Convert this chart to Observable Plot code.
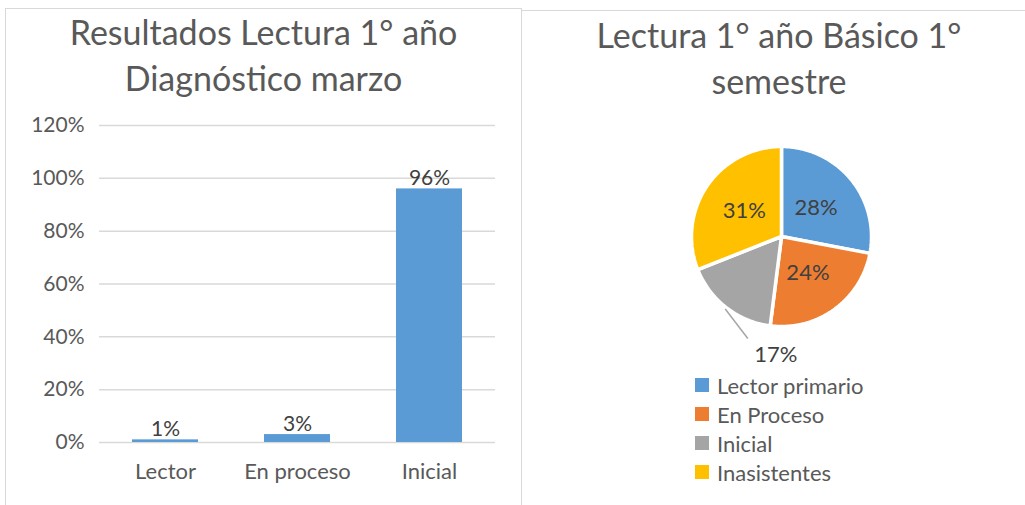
<!DOCTYPE html>
<html>
<head>
<meta charset="utf-8">
<script src="https://cdn.jsdelivr.net/npm/d3@7"></script>
<script src="https://cdn.jsdelivr.net/npm/@observablehq/plot@0.6"></script>
<style>
  html, body { margin: 0; padding: 0; background: #fff; }
  body { width: 1025px; height: 505px; position: relative; overflow: hidden; font-family: Lato, "Open Sans", sans-serif; color: #595959; }
  .panel { position: absolute; border: 1px solid #d9d9d9; box-sizing: border-box; background: #fff; }
  .title { position: absolute; text-align: center; font-size: 34px; line-height: 46px; color: #595959; white-space: nowrap; }
  .abs { position: absolute; }
  .legend-row { position: absolute; display: flex; align-items: center; font-size: 22px; color: #595959; white-space: nowrap; }
  .sw { width: 14px; height: 14px; margin-right: 8px; }
</style>
</head>
<body>
<div class="panel" style="left:5px; top:8px; width:517px; height:510px;"></div>
<div class="panel" style="left:521px; top:10px; width:520px; height:510px;"></div>
<div class="title" style="left:5px; width:517px; top:9px;">Resultados Lectura 1° año<br>Diagnóstico marzo</div>
<div class="title" style="left:521px; width:516px; top:12px;">Lectura 1° año Básico 1°<br>semestre</div>
<div id="bar" class="abs" style="left:0px; top:110px;"></div>
<div id="pie" class="abs" style="left:671px; top:126px;"></div>
<div id="legend"></div>
<script>
// ---- Data ----
const barCategories = ["Lector", "En proceso", "Inicial"];
const barValues = [0.01, 0.03, 0.96];
const yTicks = [0, 0.2, 0.4, 0.6, 0.8, 1.0, 1.2];

const pieCategories = ["Lector primario", "En Proceso", "Inicial", "Inasistentes"];
const pieValues = [0.28, 0.24, 0.17, 0.31];
const pieColors = ["#5B9BD5", "#ED7D31", "#A5A5A5", "#FFC000"];

const pct = d3.format(".0%");

// ---- Bar chart ----
const barData = barCategories.map((c, i) => ({cat: c, v: barValues[i]}));
const bar = Plot.plot({
  width: 520,
  height: 395,
  marginLeft: 99,
  marginRight: 25,
  marginTop: 15,
  marginBottom: 63,
  style: {fontFamily: "Lato, sans-serif", fontSize: "21px", color: "#595959", background: "transparent"},
  x: {domain: barCategories, paddingInner: 0.5, paddingOuter: 0.25, label: null},
  y: {domain: [0, 1.2], label: null},
  marks: [
    Plot.gridY(yTicks, {stroke: "#d9d9d9", strokeOpacity: 1, strokeWidth: 1.5}),
    Plot.axisY({ticks: yTicks, tickFormat: d3.format(".0%"), tickSize: 0, tickPadding: 15, label: null, fontSize: 21, fill: "#595959"}),
    Plot.axisX({tickSize: 0, tickPadding: 21, label: null, fontSize: 22, fill: "#595959"}),
    Plot.barY(barData, {x: "cat", y: "v", fill: "#5B9BD5"}),
    Plot.text(barData, {x: "cat", y: "v", text: d => pct(d.v), lineAnchor: "bottom", dy: -4, fontSize: 21, fill: "#404040"})
  ]
});
document.getElementById("bar").appendChild(bar);

// ---- Pie chart ----
const R = 90;
const arcs = d3.pie().sort(null).value(d => d)(pieValues);
const polyPts = [];
arcs.forEach((a, i) => {
  const cat = pieCategories[i];
  polyPts.push({cat, x: 0, y: 0});
  const n = Math.max(2, Math.ceil((a.endAngle - a.startAngle) / 0.01));
  for (let k = 0; k <= n; k++) {
    const t = a.startAngle + (a.endAngle - a.startAngle) * k / n;
    polyPts.push({cat, x: R * Math.sin(t), y: -R * Math.cos(t)});
  }
  polyPts.push({cat, x: 0, y: 0});
});
const mid = a => (a.startAngle + a.endAngle) / 2;
const insideLabels = arcs.map((a, i) => ({
  cat: pieCategories[i], v: pieValues[i],
  x: 0.5 * R * Math.sin(mid(a)), y: -0.5 * R * Math.cos(mid(a))
})).filter(d => d.cat !== "Inicial");
const gi = pieCategories.indexOf("Inicial");
const ga = arcs[gi];
const outLabel = [{
  v: pieValues[gi],
  x: 1.3 * R * Math.sin(ga.startAngle) + 9, y: -1.3 * R * Math.cos(ga.startAngle) + 2,
}];
const leader = [{
  x1: 1.02 * R * Math.sin(mid(ga)), y1: -1.02 * R * Math.cos(mid(ga)),
  x2: outLabel[0].x - 28, y2: outLabel[0].y - 16
}];

const pie = Plot.plot({
  width: 220, height: 260,
  margin: 0,
  style: {fontFamily: "Lato, sans-serif", background: "transparent"},
  x: {domain: [-110, 110], range: [0, 220], axis: null},
  y: {domain: [-110, 150], range: [0, 260], axis: null},
  color: {domain: pieCategories, range: pieColors},
  marks: [
    Plot.line(polyPts, {x: "x", y: "y", z: "cat", fill: "cat", stroke: "white", strokeWidth: 3.5, strokeLinejoin: "miter", curve: "linear"}),
    Plot.text(insideLabels, {x: "x", y: "y", text: d => pct(d.v), fontSize: 22, fill: "#404040"}),
    Plot.link(leader, {x1: "x1", y1: "y1", x2: "x2", y2: "y2", stroke: "#a6a6a6", strokeWidth: 1.5}),
    Plot.text(outLabel, {x: "x", y: "y", text: d => pct(d.v), fontSize: 22, fill: "#404040"})
  ]
});
document.getElementById("pie").appendChild(pie);

// ---- Legend ----
const legend = document.getElementById("legend");
pieCategories.forEach((c, i) => {
  const row = document.createElement("div");
  row.className = "legend-row";
  row.style.left = "695px";
  row.style.top = (371 + i * 29) + "px";
  row.style.height = "28px";
  const sw = document.createElement("div");
  sw.className = "sw";
  sw.style.background = pieColors[i];
  const tx = document.createElement("span");
  tx.textContent = c;
  row.appendChild(sw);
  row.appendChild(tx);
  legend.appendChild(row);
});
</script>
</body>
</html>
